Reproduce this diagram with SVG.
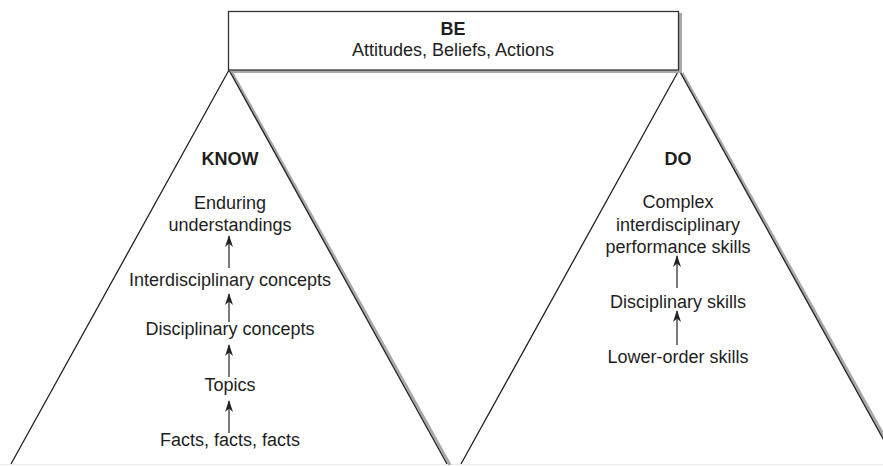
<svg xmlns="http://www.w3.org/2000/svg" width="883" height="466" viewBox="0 0 883 466">
<style>
.t{font-family:"Liberation Sans",Arial,sans-serif;font-size:18px;fill:#1e1e1e;text-anchor:middle}
.b{font-weight:bold}
.edge{stroke:#222;stroke-width:1.3;fill:none}
.shadow{stroke:#a8a8a8;stroke-width:3;fill:none}
.arr{stroke:#222;stroke-width:1.2;fill:none;marker-end:url(#ah)}
</style>
<defs>
<marker id="ah" markerWidth="12" markerHeight="8" refX="11" refY="4" orient="auto" markerUnits="userSpaceOnUse" viewBox="0 0 12 8">
<path d="M12,4 L0,0 L3.5,4 L0,8 Z" fill="#222"/>
</marker>
</defs>
<rect width="883" height="466" fill="#fff"/>
<line x1="0" y1="464.5" x2="883" y2="464.5" stroke="#ececec" stroke-width="1"/>
<g id="know">
<line class="shadow" x1="232" y1="73" x2="450" y2="465"/>
<polyline class="edge" points="11,464 229,70 447,464"/>
<text class="t b" x="230" y="165">KNOW</text>
<text class="t" x="230" y="209">Enduring</text>
<text class="t" x="230" y="231">understandings</text>
<text class="t" x="230" y="286">Interdisciplinary concepts</text>
<text class="t" x="230" y="335">Disciplinary concepts</text>
<text class="t" x="230" y="391">Topics</text>
<text class="t" x="230" y="446">Facts, facts, facts</text>
</g>
<g id="do">
<line class="shadow" x1="682" y1="73" x2="900" y2="465"/>
<polyline class="edge" points="461,464 679,70 897,464"/>
<text class="t b" x="678" y="165">DO</text>
<text class="t" x="678" y="208">Complex</text>
<text class="t" x="678" y="231">interdisciplinary</text>
<text class="t" x="678" y="253">performance skills</text>
<text class="t" x="678" y="308">Disciplinary skills</text>
<text class="t" x="678" y="363">Lower-order skills</text>
</g>
<g id="be">
<polyline class="shadow" points="231,71.5 680.5,71.5 680.5,13"/>
<rect x="228.5" y="11.5" width="450" height="58.5" fill="#fff" stroke="#333" stroke-width="1.3"/>
<text class="t b" x="453" y="35">BE</text>
<text class="t" x="453" y="56">Attitudes, Beliefs, Actions</text>
</g>
<g id="connectors">
<line class="arr" x1="229" y1="268" x2="229" y2="236"/>
<line class="arr" x1="229" y1="322" x2="229" y2="294"/>
<line class="arr" x1="229" y1="377" x2="229" y2="345"/>
<line class="arr" x1="229" y1="433" x2="229" y2="401"/>
<line class="arr" x1="677" y1="288" x2="677" y2="256"/>
<line class="arr" x1="677" y1="345" x2="677" y2="311"/>
</g>
</svg>
